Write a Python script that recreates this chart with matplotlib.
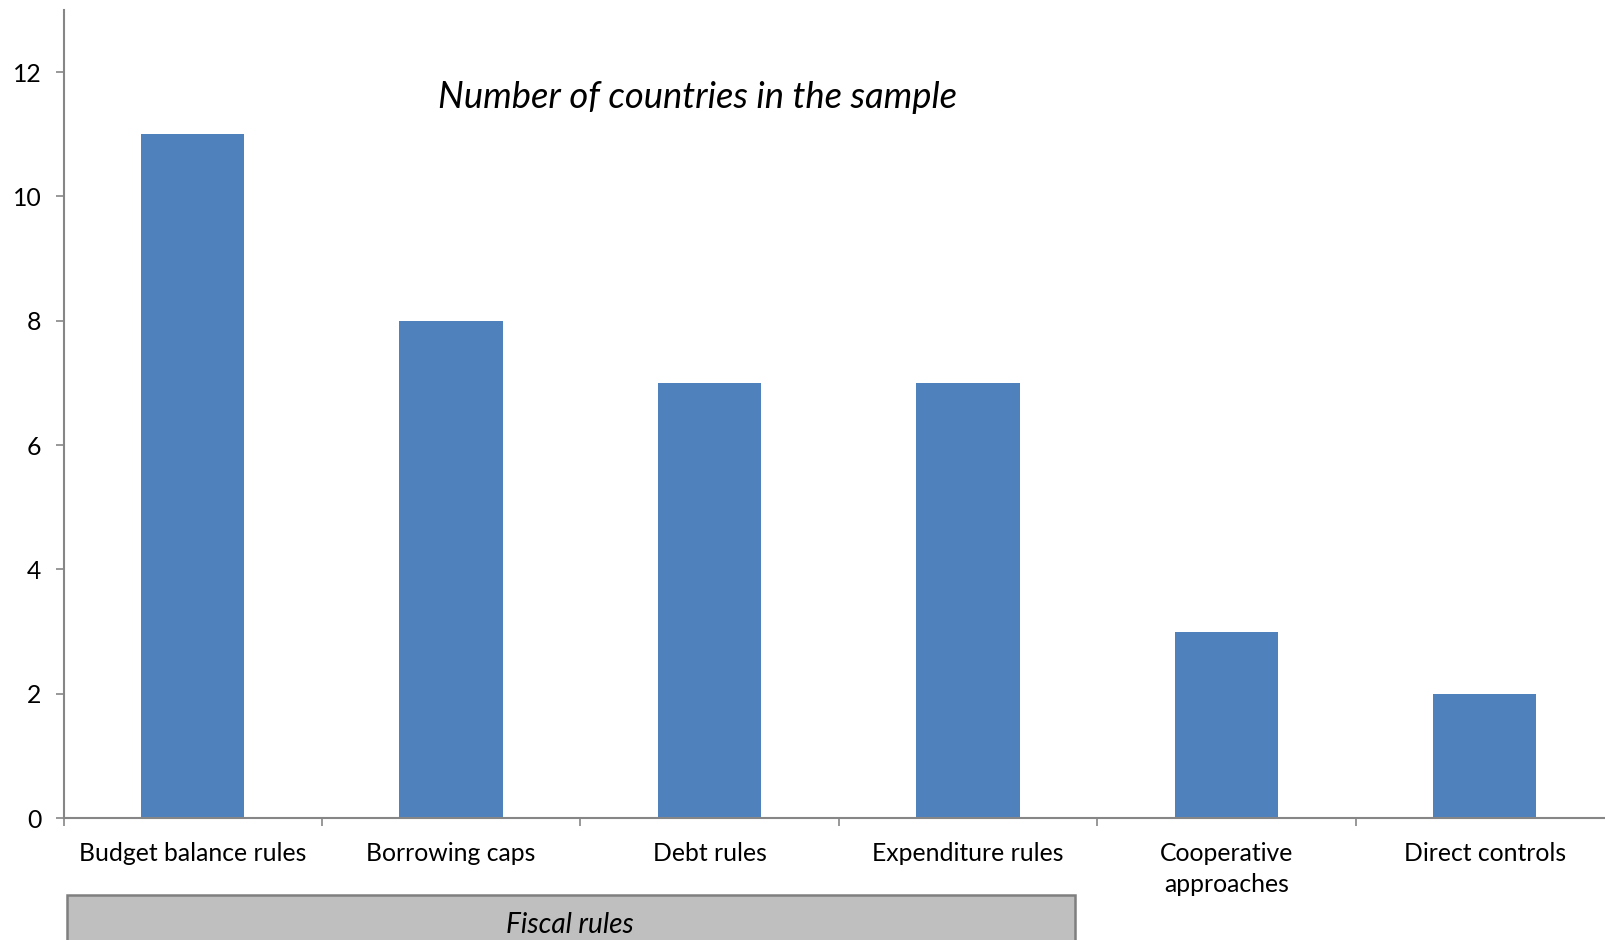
import matplotlib
matplotlib.use("Agg")
import matplotlib.pyplot as plt
from matplotlib.patches import Rectangle
from matplotlib.ticker import FixedLocator, NullFormatter

categories = ["Budget balance rules", "Borrowing caps", "Debt rules",
              "Expenditure rules", "Cooperative\napproaches", "Direct controls"]
counts = [11, 8, 7, 7, 3, 2]
y_ticks = [0, 2, 4, 6, 8, 10, 12]
title_text = "Number of countries in the sample"
group_text = "Fiscal rules"

plt.rcParams["font.family"] = ["Lato", "DejaVu Sans"]

W, H = 1605, 940
fig = plt.figure(figsize=(W / 100, H / 100), dpi=100)
ax = fig.add_axes([63.5 / W, 1 - 818 / H, 1550.5 / W, (818 - 10) / H])

x = list(range(len(categories)))
ax.bar(x, counts, width=0.4, color="#4f81bd", zorder=2)

ax.set_xlim(-0.5, len(categories) - 0.5)
ax.set_ylim(0, 13)

axis_col = "#868686"
for side in ("top", "right"):
    ax.spines[side].set_visible(False)
for side in ("left", "bottom"):
    ax.spines[side].set_color(axis_col)
    ax.spines[side].set_linewidth(1.5)

ax.set_yticks(y_ticks)
ax.set_yticklabels([str(v) for v in y_ticks])
ax.tick_params(axis="y", direction="out", length=6, width=1.2, color=axis_col,
               pad=10, labelsize=17.8, labelcolor="black")

# category boundaries carry the tick marks, centres carry the labels
ax.xaxis.set_major_locator(FixedLocator([i - 0.5 for i in range(len(categories) + 1)]))
ax.xaxis.set_major_formatter(NullFormatter())
ax.xaxis.set_minor_locator(FixedLocator(x))
ax.set_xticklabels(categories, minor=True)
ax.tick_params(axis="x", which="major", direction="out", length=6, width=1.2,
               color=axis_col)
ax.tick_params(axis="x", which="minor", length=0, pad=17, labelsize=17.8,
               labelcolor="black")
for lab in ax.get_xticklabels(minor=True):
    lab.set_linespacing(1.45)

fig.text(698 / W, 1 - 98 / H, title_text, ha="center", va="center",
         fontsize=26.2, style="italic")

# grey band marking the fiscal-rule categories
fig.patches.append(Rectangle((66.5 / W, 1 - 960 / H), (1075 - 66.5) / W, (960 - 895) / H,
                             transform=fig.transFigure, facecolor="#bfbfbf",
                             edgecolor="#7f7f7f", linewidth=1.8))
fig.text(570 / W, 1 - 925 / H, group_text, ha="center", va="center",
         fontsize=20.2, style="italic")

fig.savefig("out.png", dpi=100)
